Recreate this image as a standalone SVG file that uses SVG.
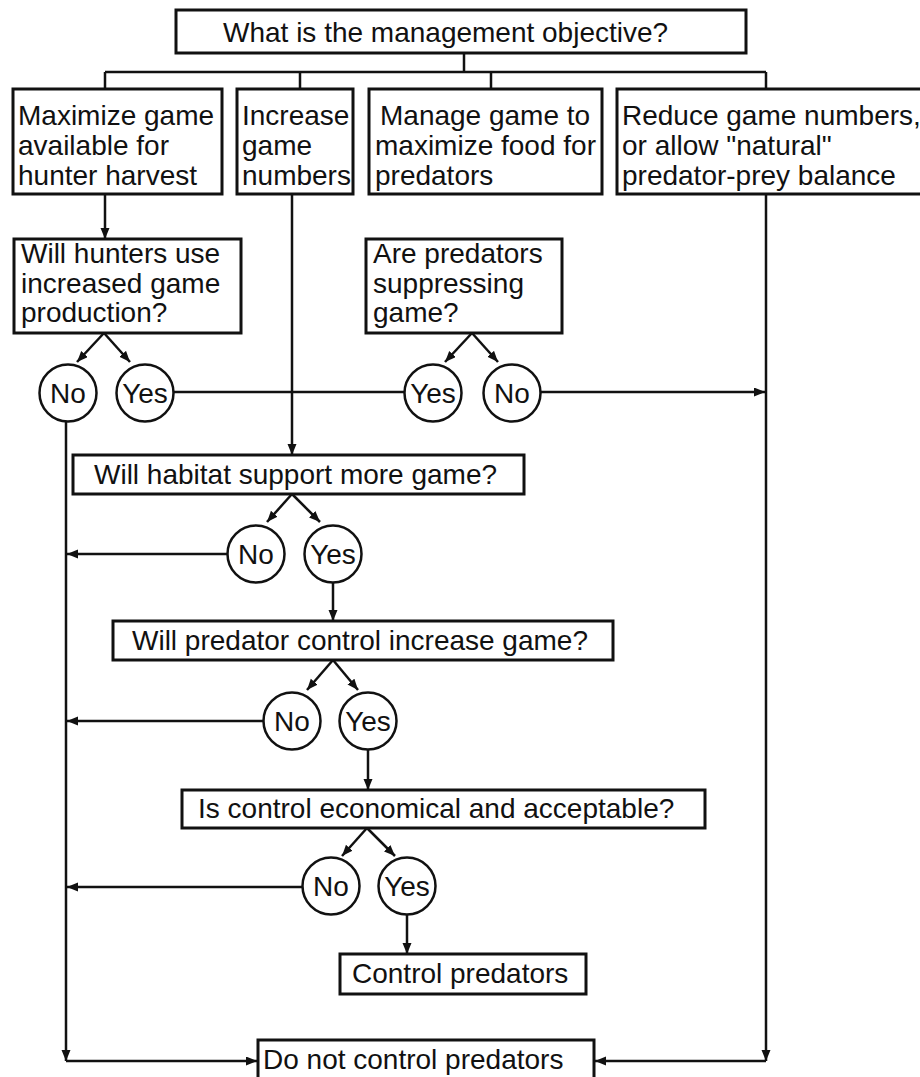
<svg xmlns="http://www.w3.org/2000/svg" width="920" height="1077" viewBox="0 0 920 1077">
<style>
.box{fill:#fff;stroke:#111;stroke-width:3}
.circ{fill:#fff;stroke:#111;stroke-width:2.5}
.ln{fill:none;stroke:#111;stroke-width:2.5}
.arr{fill:none;stroke:#111;stroke-width:2.5;marker-end:url(#ah)}
text{font-family:"Liberation Sans",Arial,sans-serif;font-size:28px;fill:#111}
.c{text-anchor:middle}
</style>
<defs>
<marker id="ah" markerUnits="userSpaceOnUse" markerWidth="12" markerHeight="10" refX="11" refY="4.5" orient="auto">
<path d="M0,0 L11,4.5 L0,9 z" fill="#111"/>
</marker>
</defs>
<rect width="920" height="1077" fill="#fff"/>
<g id="connectors">
<path class="ln" d="M464,53 V72 M105,72 H766 M105,72 V89 M300,72 V89 M491,72 V89 M766,72 V89"/>
<path class="arr" d="M105,194 V239"/>
<path class="arr" d="M292,194 V455"/>
<path class="arr" d="M766,194 V1061"/>
<path class="arr" d="M766,1061 H595"/>
<path class="arr" d="M66,421 V1061"/>
<path class="arr" d="M66,1061 H257"/>
<path class="arr" d="M104,333 L77,362"/>
<path class="arr" d="M104,333 L130,362"/>
<path class="arr" d="M472,333 L445,362"/>
<path class="arr" d="M472,333 L498,362"/>
<path class="ln" d="M173,392 H405"/>
<path class="arr" d="M541,392 H765"/>
<path class="arr" d="M292,494 L267,522"/>
<path class="arr" d="M292,494 L320,522"/>
<path class="arr" d="M228,554 H67"/>
<path class="arr" d="M333,583 V621"/>
<path class="arr" d="M333,660 L307,690"/>
<path class="arr" d="M333,660 L358,690"/>
<path class="arr" d="M263,721 H67"/>
<path class="arr" d="M368,750 V790"/>
<path class="arr" d="M367,828 L342,856"/>
<path class="arr" d="M367,828 L395,856"/>
<path class="arr" d="M302,887 H67"/>
<path class="arr" d="M407,915 V954"/>
</g>
<g id="objective">
<rect class="box" x="176" y="10" width="570" height="43"/>
<text x="223" y="42">What is the management objective?</text>
</g>
<g id="maximize">
<rect class="box" x="13" y="89" width="209" height="105"/>
<text x="18" y="125">Maximize game</text>
<text x="18" y="155">available for</text>
<text x="18" y="185">hunter harvest</text>
</g>
<g id="increase">
<rect class="box" x="237" y="89" width="116" height="105"/>
<text x="242" y="125">Increase</text>
<text x="242" y="155">game</text>
<text x="242" y="185">numbers</text>
</g>
<g id="manage">
<rect class="box" x="369" y="89" width="233" height="105"/>
<text x="380" y="125">Manage game to</text>
<text x="375" y="155">maximize food for</text>
<text x="375" y="185">predators</text>
</g>
<g id="reduce">
<rect class="box" x="617" y="89" width="330" height="105"/>
<text x="622" y="125">Reduce game numbers,</text>
<text x="622" y="155">or allow "natural"</text>
<text x="622" y="185">predator-prey balance</text>
</g>
<g id="hunters">
<rect class="box" x="14" y="239" width="227" height="94"/>
<text x="21" y="263">Will hunters use</text>
<text x="21" y="293">increased game</text>
<text x="21" y="322">production?</text>
</g>
<g id="suppressing">
<rect class="box" x="366" y="239" width="196" height="94"/>
<text x="373" y="263">Are predators</text>
<text x="373" y="293">suppressing</text>
<text x="373" y="322">game?</text>
</g>
<g id="hunters-no"><circle class="circ" cx="68" cy="393" r="28.5"/><text class="c" x="68" y="403">No</text></g>
<g id="hunters-yes"><circle class="circ" cx="145" cy="393" r="28.5"/><text class="c" x="145" y="403">Yes</text></g>
<g id="suppress-yes"><circle class="circ" cx="433" cy="393" r="28.5"/><text class="c" x="433" y="403">Yes</text></g>
<g id="suppress-no"><circle class="circ" cx="512" cy="393" r="28.5"/><text class="c" x="512" y="403">No</text></g>
<g id="habitat">
<rect class="box" x="73" y="455" width="451" height="39"/>
<text x="94" y="484">Will habitat support more game?</text>
</g>
<g id="habitat-no"><circle class="circ" cx="256" cy="554" r="28.5"/><text class="c" x="256" y="564">No</text></g>
<g id="habitat-yes"><circle class="circ" cx="333" cy="554" r="28.5"/><text class="c" x="333" y="564">Yes</text></g>
<g id="increase-game">
<rect class="box" x="113" y="621" width="500" height="39"/>
<text x="132" y="650">Will predator control increase game?</text>
</g>
<g id="increase-no"><circle class="circ" cx="292" cy="721" r="28.5"/><text class="c" x="292" y="731">No</text></g>
<g id="increase-yes"><circle class="circ" cx="368" cy="721" r="28.5"/><text class="c" x="368" y="731">Yes</text></g>
<g id="economical">
<rect class="box" x="182" y="790" width="523" height="38"/>
<text x="198" y="818">Is control economical and acceptable?</text>
</g>
<g id="economical-no"><circle class="circ" cx="331" cy="886" r="28.5"/><text class="c" x="331" y="896">No</text></g>
<g id="economical-yes"><circle class="circ" cx="407" cy="886" r="28.5"/><text class="c" x="407" y="896">Yes</text></g>
<g id="control">
<rect class="box" x="340" y="954" width="246" height="40"/>
<text x="352" y="983">Control predators</text>
</g>
<g id="do-not-control">
<rect class="box" x="258" y="1040" width="336" height="44"/>
<text x="263" y="1069">Do not control predators</text>
</g>
</svg>
